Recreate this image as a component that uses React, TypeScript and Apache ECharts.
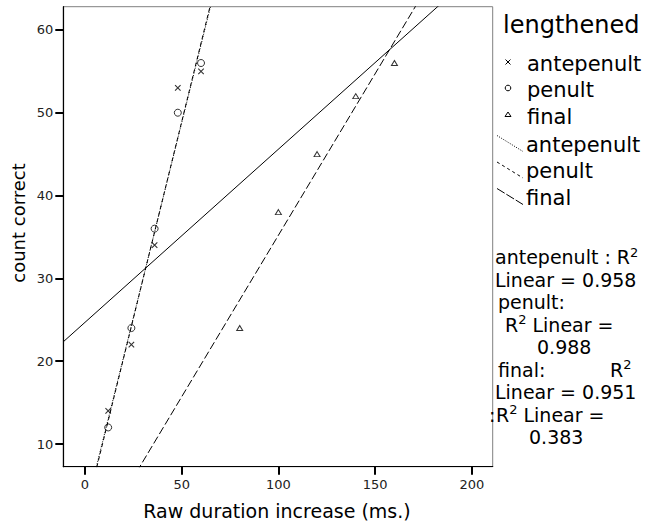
import React, { useEffect, useRef } from "react";
import * as echarts from "echarts";

// ---- data ----
const xTicks = [0, 50, 100, 150, 200];
const yTicks = [10, 20, 30, 40, 50, 60];
const X_MIN = -11.2;
const X_MAX = 210.8;
const Y_MIN = 7.26;
const Y_MAX = 62.8;

const antepenultX = [12, 24, 36, 48, 60];
const antepenultY = [14, 22, 34, 53, 55];
const penultX = [12, 24, 36, 48, 60];
const penultY = [12, 24, 36, 50, 56];
const finalX = [80, 100, 120, 140, 160];
const finalY = [24, 38, 45, 52, 56];

const legendTitle = "lengthened";
const legendMarkerNames = ["antepenult", "penult", "final"];
const legendLineNames = ["antepenult", "penult", "final"];

// {s|2} = superscript 2 (R²)
const r2Lines = [
  { text: "antepenult : R{s|2}", x: 495 },
  { text: "Linear = 0.958", x: 495 },
  { text: "penult:", x: 498 },
  { text: "R{s|2} Linear =", x: 505 },
  { text: "0.988", x: 537 },
  { text: "final:", x: 498 },
  { text: "Linear = 0.951", x: 495 },
  { text: "R{s|2} Linear =", x: 496 },
  { text: "0.383", x: 529 },
];

const FONT = "DejaVu Sans";

function fit(xs: number[], ys: number[]) {
  const n = xs.length;
  const mx = xs.reduce((s, v) => s + v, 0) / n;
  const my = ys.reduce((s, v) => s + v, 0) / n;
  let sxx = 0;
  let sxy = 0;
  for (let i = 0; i < n; i++) {
    sxx += (xs[i] - mx) * (xs[i] - mx);
    sxy += (xs[i] - mx) * (ys[i] - my);
  }
  const b = sxy / sxx;
  const a = my - b * mx;
  return (x: number) => a + b * x;
}

function fitLine(xs: number[], ys: number[]) {
  const f = fit(xs, ys);
  return [
    [X_MIN, f(X_MIN)],
    [X_MAX, f(X_MAX)],
  ];
}

const zip = (xs: number[], ys: number[]) => xs.map((x, i) => [x, ys[i]]);

export default function App() {
  const ref = useRef<HTMLDivElement>(null);

  useEffect(() => {
    if (!ref.current) return;
    const chart = echarts.init(ref.current, undefined, { renderer: "svg" });

    const allX = [...antepenultX, ...penultX, ...finalX];
    const allY = [...antepenultY, ...penultY, ...finalY];

    const lineBase = {
      type: "line",
      showSymbol: false,
      symbol: "none",
      clip: true,
      silent: true,
      z: 2,
    };

    const textStyleBase = { fontFamily: FONT, fill: "#000" };
    const supRich = {
      s: { fontFamily: FONT, fontSize: 13, fill: "#000", padding: [0, 0, 10, 0] },
    };

    const graphics: any[] = [];
    graphics.push({
      type: "text",
      x: 503,
      y: 25,
      style: { ...textStyleBase, text: legendTitle, fontSize: 24, align: "left", verticalAlign: "middle" },
    });
    const markerRows = [63.5, 90, 116.5];
    const lineRows = [144.5, 171, 197.5];
    legendMarkerNames.forEach((name, i) => {
      graphics.push({
        type: "text",
        x: 527,
        y: markerRows[i],
        style: { ...textStyleBase, text: name, fontSize: 21, align: "left", verticalAlign: "middle" },
      });
    });
    const mx = 508;
    graphics.push({
      type: "group",
      children: [
        { type: "line", shape: { x1: mx - 2.5, y1: 59.5, x2: mx + 2.5, y2: 64.5 }, style: { stroke: "#000", lineWidth: 1 } },
        { type: "line", shape: { x1: mx - 2.5, y1: 64.5, x2: mx + 2.5, y2: 59.5 }, style: { stroke: "#000", lineWidth: 1 } },
        { type: "circle", shape: { cx: mx, cy: 88, r: 2.8 }, style: { stroke: "#000", fill: "none", lineWidth: 1 } },
        {
          type: "polygon",
          shape: { points: [[mx, 112], [mx + 3, 116.5], [mx - 3, 116.5]] },
          style: { stroke: "#000", fill: "#fff", lineWidth: 1 },
        },
      ],
    });
    const dashes = [[1, 1.5], [3, 3], [9, 2]];
    legendLineNames.forEach((name, i) => {
      const base = lineRows[i] + 7;
      graphics.push({
        type: "line",
        shape: { x1: 497, y1: base - 16, x2: 523, y2: base },
        style: { stroke: "#000", lineWidth: 1, lineDash: dashes[i] },
      });
      graphics.push({
        type: "text",
        x: 526,
        y: lineRows[i],
        style: { ...textStyleBase, text: name, fontSize: 21, align: "left", verticalAlign: "middle" },
      });
    });
    const r2Rows = [257, 279.5, 302, 324.5, 347, 369.5, 392, 414.5, 437];
    r2Lines.forEach((l, i) => {
      graphics.push({
        type: "text",
        x: l.x,
        y: r2Rows[i],
        style: { ...textStyleBase, text: l.text, fontSize: 19, align: "left", verticalAlign: "middle", rich: supRich },
      });
    });
    graphics.push({
      type: "text",
      x: 610,
      y: r2Rows[5],
      style: { ...textStyleBase, text: "R{s|2}", fontSize: 19, align: "left", verticalAlign: "middle", rich: supRich },
    });
    graphics.push({
      type: "text",
      x: 489,
      y: r2Rows[7],
      style: { ...textStyleBase, text: ":", fontSize: 19, align: "left", verticalAlign: "middle" },
    });
    graphics.push({
      type: "text",
      x: 277,
      y: 511,
      style: { ...textStyleBase, text: "Raw duration increase (ms.)", fontSize: 19, align: "center", verticalAlign: "middle" },
    });
    graphics.push({
      type: "text",
      x: 18,
      y: 223,
      rotation: Math.PI / 2,
      style: { ...textStyleBase, text: "count correct", fontSize: 18, align: "center", verticalAlign: "middle" },
    });

    chart.setOption({
      animation: false,
      textStyle: { fontFamily: FONT },
      grid: {
        left: 63.3,
        right: 648 - 492.7,
        top: 6.7,
        bottom: 523 - 466.7,
        show: true,
        borderColor: "#808080",
        borderWidth: 1,
        backgroundColor: "transparent",
        containLabel: false,
      },
      xAxis: {
        type: "value",
        min: X_MIN,
        max: X_MAX,
        axisLine: { show: true, onZero: false, lineStyle: { color: "#000", width: 1.2 } },
        axisTick: { show: true, customValues: xTicks, length: 8, lineStyle: { color: "#000", width: 2 } },
        axisLabel: { customValues: xTicks, margin: 11, fontFamily: FONT, fontSize: 13, color: "#222" },
        splitLine: { show: false },
      },
      yAxis: {
        type: "value",
        min: Y_MIN,
        max: Y_MAX,
        axisLine: { show: true, onZero: false, lineStyle: { color: "#000", width: 1.2 } },
        axisTick: { show: true, customValues: yTicks, length: 8, lineStyle: { color: "#000", width: 2 } },
        axisLabel: { customValues: yTicks, margin: 10, fontFamily: FONT, fontSize: 13, color: "#222" },
        splitLine: { show: false },
      },
      series: [
        {
          ...lineBase,
          name: "total fit",
          data: fitLine(allX, allY),
          lineStyle: { color: "#000", width: 1, type: "solid" },
        },
        {
          ...lineBase,
          name: "antepenult fit",
          data: fitLine(antepenultX, antepenultY),
          lineStyle: { color: "#000", width: 1, type: [1, 1.5] },
        },
        {
          ...lineBase,
          name: "penult fit",
          data: fitLine(penultX, penultY),
          lineStyle: { color: "#000", width: 1, type: [4, 3] },
        },
        {
          ...lineBase,
          name: "final fit",
          data: fitLine(finalX, finalY),
          lineStyle: { color: "#000", width: 1, type: [8, 3] },
        },
        {
          type: "scatter",
          name: "antepenult",
          data: zip(antepenultX, antepenultY),
          symbol: "path://M0,0L10,10M0,10L10,0",
          symbolSize: 5.5,
          itemStyle: { color: "rgba(0,0,0,0)", borderColor: "#000", borderWidth: 1.1 },
          z: 3,
        },
        {
          type: "scatter",
          name: "penult",
          data: zip(penultX, penultY),
          symbol: "circle",
          symbolSize: 7,
          itemStyle: { color: "rgba(0,0,0,0)", borderColor: "#000", borderWidth: 1 },
          z: 3,
        },
        {
          type: "scatter",
          name: "final",
          data: zip(finalX, finalY),
          symbol: "triangle",
          symbolSize: [6, 5],
          itemStyle: { color: "#fff", borderColor: "#000", borderWidth: 1 },
          z: 3,
        },
      ],
      graphic: graphics,
    });

    return () => chart.dispose();
  }, []);

  return (
    <div
      ref={ref}
      style={{ position: "fixed", left: 0, top: 0, width: 648, height: 523, background: "#fff" }}
    />
  );
}
